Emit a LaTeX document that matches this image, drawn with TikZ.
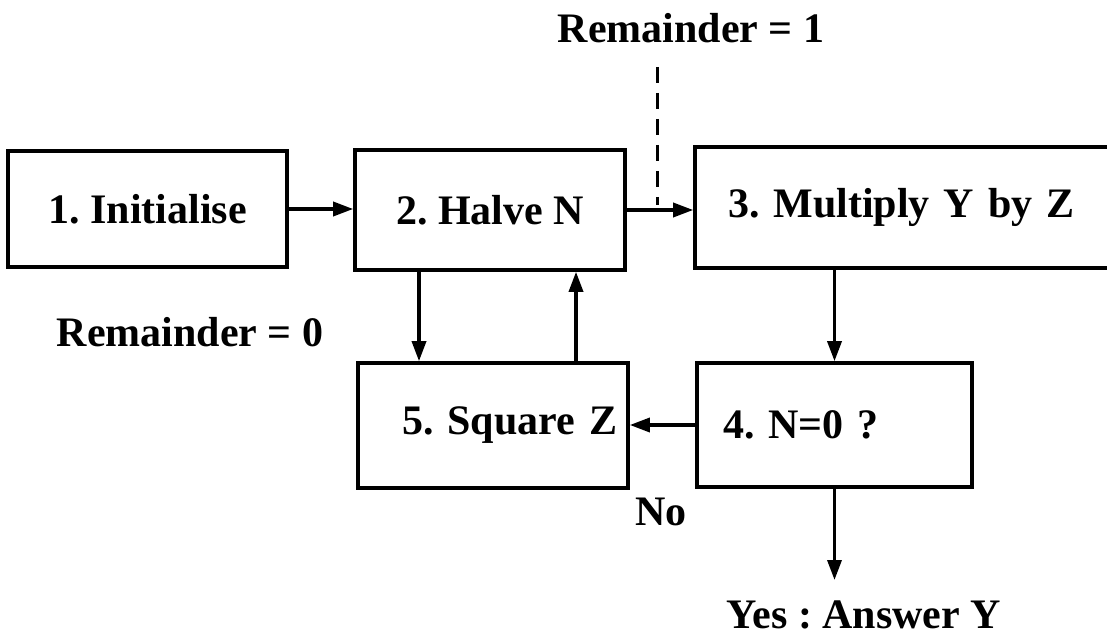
\documentclass[tikz,border=0pt]{standalone}
\usepackage{fontspec}
\setmainfont{Liberation Serif}
\usetikzlibrary{arrows.meta}
\frenchspacing
\begin{document}
\begin{tikzpicture}[x=0.5pt, y=-0.5pt, font=\fontsize{21}{25}\selectfont\bfseries,
  blk/.style={draw, line width=1.8pt, inner ysep=0pt},
  lblk/.style={blk, align=left, text width=#1},
  arr/.style={-{Triangle[length=10pt, width=7pt]}, line width=1.7pt}]
  \useasboundingbox (0,0) rectangle (1107,636);
  % boxes
  \node[blk, minimum width=139.5pt, minimum height=58pt] (init) at (147.5,209) {1. Initialise};
  \node[blk, minimum width=135pt, minimum height=60pt] (halve) at (490,210) {2. Halve N};
  \node[lblk=184.5pt, inner xsep=16.5pt, minimum height=60.5pt] (mult) at (912.5,207.5) {\mbox{3. Multiply Y by Z}};
  \node[lblk=111.5pt, inner xsep=13pt, minimum height=62pt] (test) at (834.5,425) {\mbox{4. N=0 ?}};
  \node[lblk=91pt, inner xsep=22pt, minimum height=62.5pt] (square) at (493,425.5) {\mbox{5. Square Z}};
  % labels
  \node (rem1) at (691,28) {Remainder = 1};
  \node (rem0) at (190,332) {Remainder = 0};
  \node (no) at (661,512) {No};
  \node (ans) at (864,615) {Yes : Answer Y};
  \coordinate (dtop) at (657,67);
  \coordinate (split) at (657,205);
  \coordinate (yes) at (834.5,580);
  % connectors
  \draw[arr] (init.east) -- (init.east -| halve.west);
  \draw[arr] (halve.east) -- (halve.east -| mult.west);
  \draw[dashed, line width=1.5pt, dash pattern=on 8pt off 5pt] (dtop) -- (split);
  \draw[arr] ([xshift=-35.5pt]halve.south) -- ([xshift=-35.5pt]halve.south |- square.north);
  \draw[arr] ([xshift=43pt]halve.south |- square.north) -- ([xshift=43pt]halve.south);
  \draw[arr] (test.north |- mult.south) -- (test.north);
  \draw[arr] (test.west) -- (test.west -| square.east);
  \draw[arr] (test.south) -- (yes);
\end{tikzpicture}
\end{document}
